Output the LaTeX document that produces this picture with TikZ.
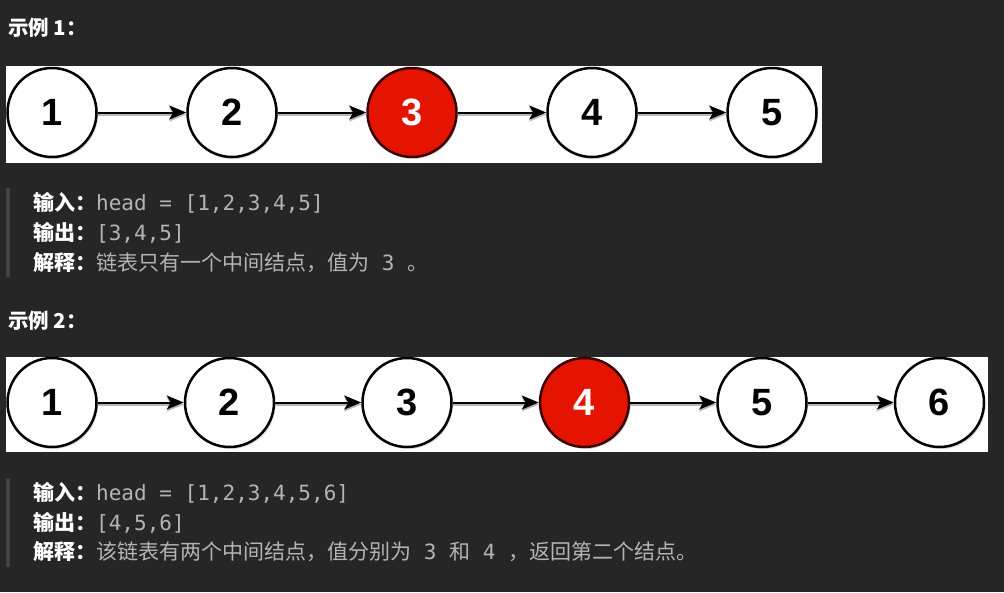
\documentclass[tikz,border=0pt]{standalone}
\usepackage{fontspec}
\usepackage{xcolor}
\usetikzlibrary{arrows.meta,shadows}
\setmainfont{Liberation Sans}
\setmonofont{DejaVu Sans Mono}
\newfontfamily\cjk{Noto Sans CJK SC}
\newcommand{\FN}{\fontsize{38}{44}\selectfont\bfseries}
\newcommand{\FT}{\fontsize{21}{25}\selectfont}
\newcommand{\etq}[1]{{\cjk\bfseries\color{white}#1}}
\definecolor{fondo}{HTML}{262626}
\definecolor{gristxt}{HTML}{B4B4B4}
\definecolor{barragris}{HTML}{434343}
\definecolor{rojo}{HTML}{E51400}
\definecolor{rojoborde}{HTML}{3A0000}

\begin{document}
\begin{tikzpicture}[x=1pt,y=-1pt]
\tikzstyle{circulo}=[circle,draw=black,fill=white,line width=2.5pt,minimum size=89pt,inner sep=0pt,
  font=\FN,text=black,drop shadow={shadow xshift=1.5pt,shadow yshift=-2pt,opacity=0.25}]
\tikzstyle{medio}=[circulo,fill=rojo,draw=rojoborde,text=white]
\tikzstyle{flecha}=[black,line width=2pt,-{Stealth[length=17pt,width=14pt,inset=4pt]},
  preaction={draw=black!28,line width=2pt,transform canvas={yshift=-2pt}}]
\tikzstyle{titulo}=[anchor=base west,inner sep=0pt,text=white,font=\fontsize{20.5}{24}\selectfont\cjk\bfseries]
\tikzstyle{texto}=[anchor=base west,inner sep=0pt,text=gristxt,font=\FT]
\tikzstyle{barra}=[fill=barragris,draw=none]

\fill[fondo] (0,0) rectangle (1004,592);

% ejemplo 1
\node[titulo] (t1) at (8,35) {示例 1：};
\fill[white] (6,66) rectangle (822,163);
\foreach \x/\s [count=\i] in {52/circulo,232/circulo,412/medio,592/circulo,772/circulo}
  \node[\s] (a\i) at (\x,112.5) {\i};
\foreach \i/\j in {1/2,2/3,3/4,4/5}
  \draw[flecha] (a\i) -- (a\j);

\fill[barra] (6,188) rectangle (9.5,277);
\node[texto] (a-in) at (33,210.5) {\etq{输入：}\ttfamily head = [1,2,3,4,5]};
\node[texto] (a-out) at (33,240.5) {\etq{输出：}\ttfamily [3,4,5]};
\node[texto] (a-exp) at (33,270) {\etq{解释：}{\cjk 链表只有一个中间结点，值为}{\ttfamily\ 3\ }{\cjk 。}};

% ejemplo 2
\node[titulo] (t2) at (8,328) {示例 2：};
\fill[white] (6,357) rectangle (988,452);
\foreach \x/\s [count=\i] in {52/circulo,229.5/circulo,407/circulo,584.5/medio,762/circulo,939.5/circulo}
  \node[\s] (b\i) at (\x,402.5) {\i};
\foreach \i/\j in {1/2,2/3,3/4,4/5,5/6}
  \draw[flecha] (b\i) -- (b\j);

\fill[barra] (6,478) rectangle (9.5,567);
\node[texto] (b-in) at (33,500) {\etq{输入：}\ttfamily head = [1,2,3,4,5,6]};
\node[texto] (b-out) at (33,530) {\etq{输出：}\ttfamily [4,5,6]};
\node[texto] (b-exp) at (33,559) {\etq{解释：}{\cjk 该链表有两个中间结点，值分别为}{\ttfamily\ 3\ }{\cjk 和}{\ttfamily\ 4\ }{\cjk ，返回第二个结点。}};
\end{tikzpicture}
\end{document}
